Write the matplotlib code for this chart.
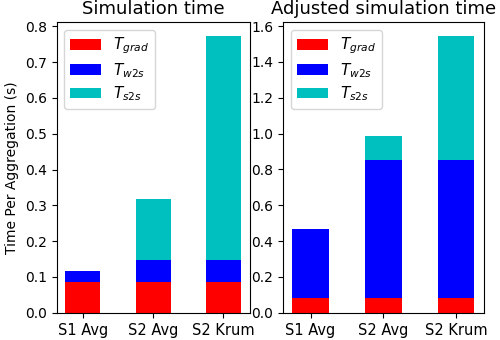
import matplotlib
matplotlib.use('Agg')
import matplotlib.pyplot as plt
import numpy as np

categories = ['S1 Avg', 'S2 Avg', 'S2 Krum']

# Simulation time
sim_grad = [0.085, 0.085, 0.085]
sim_w2s = [0.033, 0.063, 0.063]
sim_s2s = [0.0, 0.170, 0.625]

# Adjusted simulation time
adj_grad = [0.085, 0.085, 0.085]
adj_w2s = [0.385, 0.770, 0.770]
adj_s2s = [0.0, 0.130, 0.690]

labels = [r'$T_{grad}$', r'$T_{w2s}$', r'$T_{s2s}$']
colors = ['r', 'b', 'c']

fig, axes = plt.subplots(1, 2, figsize=(5, 3.4), dpi=100,
                         gridspec_kw={'width_ratios': [193, 200]})
fig.subplots_adjust(left=0.113, right=0.967, bottom=0.080, top=0.935, wspace=0.17)

x = np.arange(len(categories))
panels = [(axes[0], 'Simulation time', sim_grad, sim_w2s, sim_s2s),
          (axes[1], 'Adjusted simulation time', adj_grad, adj_w2s, adj_s2s)]

for ax, title, g, w, s in panels:
    g = np.array(g)
    w = np.array(w)
    s = np.array(s)
    ax.bar(x, g, 0.5, color=colors[0], label=labels[0])
    ax.bar(x, w, 0.5, bottom=g, color=colors[1], label=labels[1])
    ax.bar(x, s, 0.5, bottom=g + w, color=colors[2], label=labels[2])
    ax.set_xticks(x)
    ax.set_xticklabels(categories, fontsize=10.5)
    ax.set_title(title, fontsize=13)
    ax.legend(loc='upper left', fontsize=11, labelspacing=0.3)

axes[0].set_ylabel('Time Per Aggregation (s)')

plt.savefig('out.png', dpi=100)
